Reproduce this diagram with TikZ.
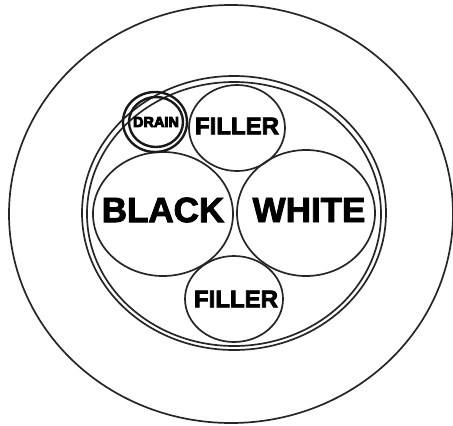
\documentclass[tikz,border=0pt]{standalone}
\usepackage{fontspec}
\setmainfont{Liberation Sans}
\newcommand\heavytext[1]{\special{pdf:literal direct 2 Tr 0.9 w}#1\special{pdf:literal direct 0 Tr}}
\begin{document}
\begin{tikzpicture}[x=1pt,y=-1pt,
  ring/.style={draw=black!85, line width=1.7pt},
  drainring/.style={draw=black!90, line width=2.4pt},
  lbl/.style={inner sep=0pt}]
\useasboundingbox (0,0) rectangle (453,426);
\fill[white] (0,0) rectangle (453,426);
% outer jacket
\draw[ring] (231,214) ellipse [x radius=222, y radius=209];
% shield double ring
\draw[ring] (234,213) ellipse [x radius=152, y radius=137];
\draw[ring] (234,214) ellipse [x radius=147, y radius=132];
% conductors
\draw[ring] (163,214) ellipse [x radius=70, y radius=62];
\draw[ring] (306,213) ellipse [x radius=69, y radius=63];
\draw[ring] (237,128) ellipse [x radius=48, y radius=43];
\draw[ring] (234,299) ellipse [x radius=49, y radius=43];
% drain
\draw[drainring] (155,122) ellipse [x radius=32, y radius=30];
\draw[drainring] (156,122) ellipse [x radius=27, y radius=25];
% labels
\node[lbl, font=\fontsize{35}{35}\bfseries] (black) at (163,210) {\heavytext{BLACK}};
\node[lbl, font=\fontsize{35}{35}\bfseries] (white) at (309,210) {\heavytext{WHITE}};
\node[lbl, font=\fontsize{24}{24}\bfseries] (f1) at (237,126) {\heavytext{FILLER}};
\node[lbl, font=\fontsize{24}{24}\bfseries] (f2) at (236,299) {\heavytext{FILLER}};
\node[lbl, font=\fontsize{14.5}{14.5}\bfseries] (drain) at (156,122) {\heavytext{DRAIN}};
\end{tikzpicture}
\end{document}
